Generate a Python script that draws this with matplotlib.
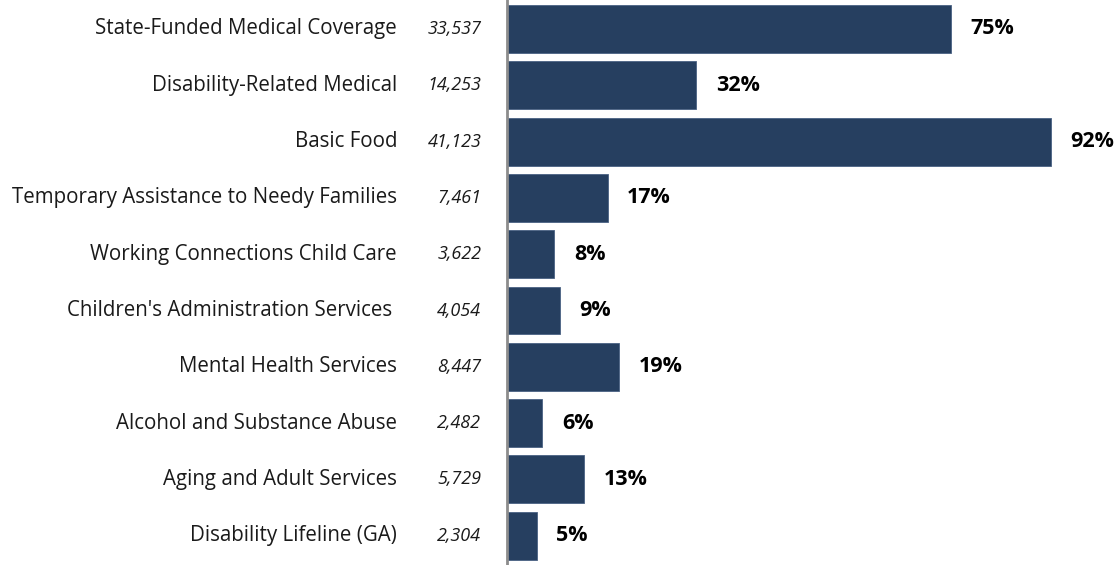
import matplotlib.pyplot as plt

# program data
programs = [
    "State-Funded Medical Coverage",
    "Disability-Related Medical",
    "Basic Food",
    "Temporary Assistance to Needy Families",
    "Working Connections Child Care",
    "Children's Administration Services ",
    "Mental Health Services",
    "Alcohol and Substance Abuse",
    "Aging and Adult Services",
    "Disability Lifeline (GA)",
]
counts = ["33,537", "14,253", "41,123", "7,461", "3,622", "4,054", "8,447", "2,482", "5,729", "2,304"]
percents = [75, 32, 92, 17, 8, 9, 19, 6, 13, 5]

plt.rcParams['font.family'] = ['Open Sans', 'DejaVu Sans']

fig = plt.figure(figsize=(11.18, 5.65), dpi=100)
ax = fig.add_axes([507 / 1118, 0, 611 / 1118, 1])

y = range(len(programs))
ax.barh(y, percents, height=0.85, color='#263f60', edgecolor='#4a6283', linewidth=0.6)

for i, (name, cnt, p) in enumerate(zip(programs, counts, percents)):
    ax.text(-0.18, i, name, transform=ax.get_yaxis_transform(), ha='right', va='center',
            fontsize=14.8, color='#1a1a1a')
    ax.text(-0.042, i, cnt, transform=ax.get_yaxis_transform(), ha='right', va='center',
            fontsize=13, style='italic', color='#1a1a1a')
    ax.annotate(f"{p}%", (p, i), xytext=(14, 0), textcoords='offset points',
                ha='left', va='center', fontsize=15.5, fontweight='bold', color='black')

ax.set_xlim(0, 103.3)
ax.set_ylim(9.52, -0.515)
for s in ['top', 'right', 'bottom']:
    ax.spines[s].set_visible(False)
ax.spines['left'].set_color('#8c8c8c')
ax.spines['left'].set_linewidth(2)
ax.set_xticks([])
ax.set_yticks([])

fig.savefig('out.png', dpi=100)
